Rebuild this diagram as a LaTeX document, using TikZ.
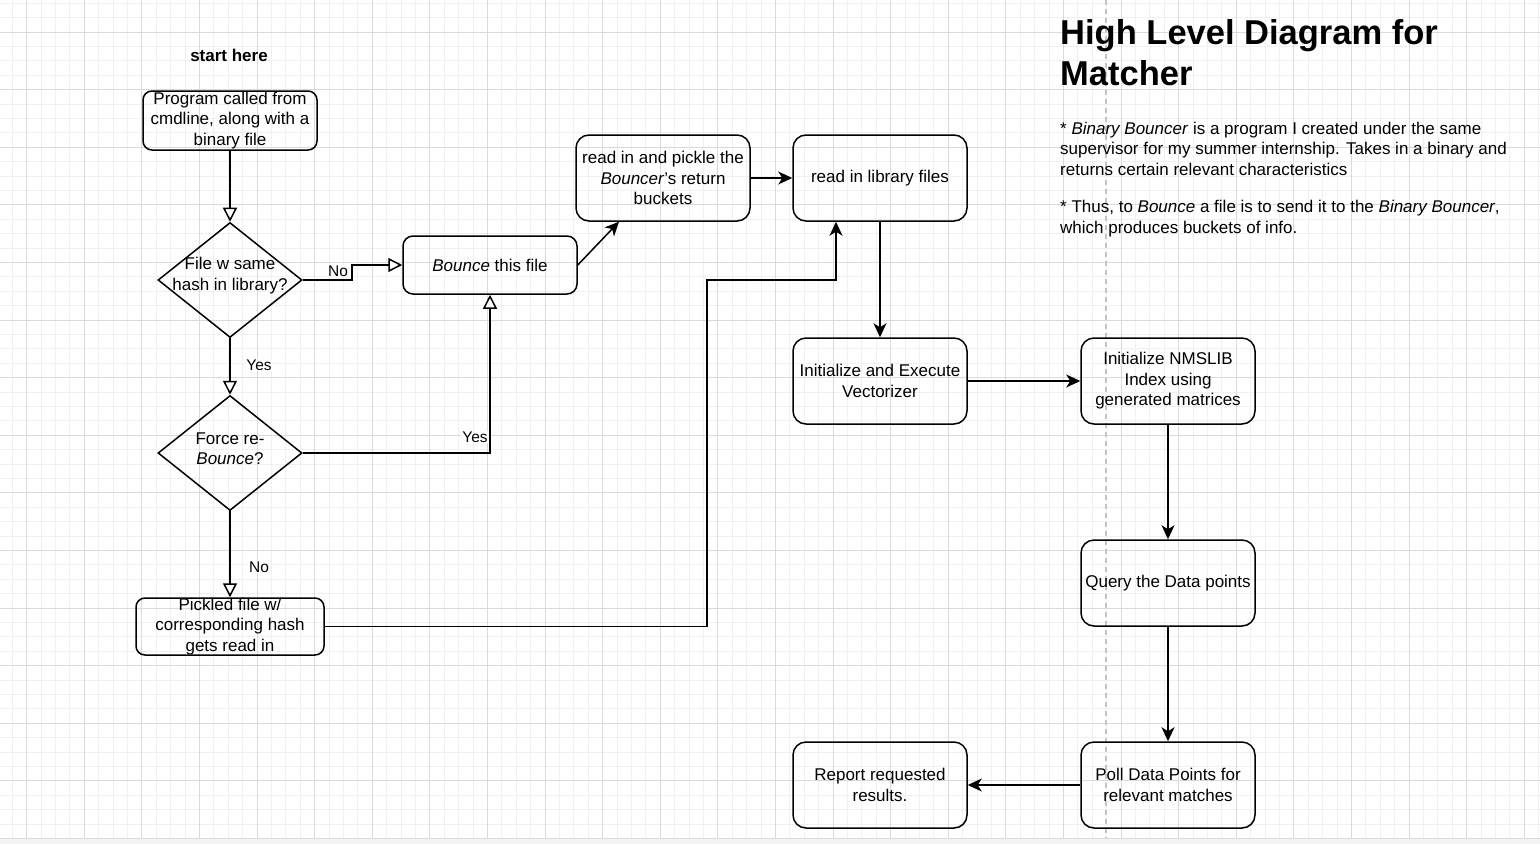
\documentclass[tikz,border=0pt]{standalone}
\usepackage{fontspec}
\setmainfont{Liberation Sans}
\usetikzlibrary{arrows.meta,shapes.geometric}
\definecolor{gridminor}{HTML}{F0F0F0}
\definecolor{gridmajor}{HTML}{DADADA}
\definecolor{pageline}{HTML}{C4C4C4}
\definecolor{pagebottom}{HTML}{F4F4F4}
\newcommand{\boxfont}{\fontsize{17}{20.5}\selectfont}
\newcommand{\labelfont}{\fontsize{15.5}{18}\selectfont}
\newcommand{\titlefont}{\fontsize{34.5}{41}\selectfont\bfseries}
\tikzset{
	box/.style={draw, line width=1.5pt, rounded corners=13pt, align=center, inner sep=0pt, font=\boxfont, minimum width=174pt, minimum height=86pt},
	decision/.style={draw, diamond, line width=1.5pt, inner sep=0pt, minimum width=144pt, minimum height=115pt},
	flow/.style={line width=1.5pt, -{Stealth[length=14pt, width=13pt, inset=4pt]}},
	flowopen/.style={line width=1.5pt, -{Triangle[open, fill=white, length=14pt, width=14pt]}},
	elabel/.style={font=\labelfont, fill=white, inner sep=1pt},
}

\begin{document}
\begin{tikzpicture}[x=1pt, y=-1pt]
			%%%%% START %%%%%
			\useasboundingbox (0,0) rectangle (1540,844);
			
			% grid paper
			\foreach \i in {-1,...,105}
				\draw[gridminor, line width=0.7pt] ({26.6+14.4*\i},0) -- ++(0,838);
			\foreach \j in {-2,...,56}
				\draw[gridminor, line width=0.7pt] (0,{32+14.4*\j}) -- ++(1540,0);
			\foreach \i in {0,...,26}
				\draw[gridmajor, line width=0.8pt] ({26.6+57.6*\i},0) -- ++(0,838);
			\foreach \j in {0,...,14}
				\draw[gridmajor, line width=0.8pt] (0,{32+57.6*\j}) -- ++(1540,0);
			\fill[pagebottom] (0,838.5) rectangle (1540,844);
			\draw[pageline, line width=1.2pt, dash pattern=on 5pt off 4pt] (1106,0) -- (1106,838);
			
			% left column
			\node[font=\boxfont\bfseries] (start) at (229,55) {start here};
			\node[box, minimum height=59pt, rounded corners=9pt] (prog) at (230,120.5) {Program called from\\cmdline, along with a\\binary file};
			\node[decision, label={[align=center, font=\boxfont, yshift=4.5pt]center:File w same\\hash in library?}] (hashq) at (230,280) {};
			\node[decision, label={[align=center, font=\boxfont, yshift=4.5pt]center:Force re-\\\textit{Bounce}?}] (forceq) at (230,453) {};
			\node[box, minimum width=188pt, minimum height=57pt, rounded corners=9pt] (pickled) at (230,626.5) {Pickled file w/\\corresponding hash\\gets read in};
			
			% bouncing
			\node[box, minimum height=58pt, rounded corners=10pt] (bounce) at (490,265) {\textit{Bounce} this file};
			\node[box] (pickle) at (663,178) {read in and pickle the\\\textit{Bouncer}'s return\\buckets};
			\node[box] (lib) at (880,178) {read in library files};
			
			% matching
			\node[box] (vec) at (880,381) {Initialize and Execute\\Vectorizer};
			\node[box] (nms) at (1168,381) {Initialize NMSLIB\\Index using\\generated matrices};
			\node[box] (query) at (1168,583) {Query the Data points};
			\node[box] (poll) at (1168,785) {Poll Data Points for\\relevant matches};
			\node[box] (report) at (880,785) {Report requested\\results.};
			
			% notes
			\node[anchor=north west, inner sep=0pt, align=left, font=\titlefont] (title) at (1060,18.8) {High Level Diagram for\\Matcher};
			\node[anchor=north west, inner sep=0pt, align=left, font=\boxfont] (notes) at (1060,121.5) {* \textit{Binary Bouncer} is a program I created under the same\\supervisor for my summer internship. Takes in a binary and\\returns certain relevant characteristics\\[17pt]* Thus, to \textit{Bounce} a file is to send it to the \textit{Binary Bouncer},\\which produces buckets of info.};
			
			% connectors
			\draw[flowopen] (prog) -- (hashq);
			\draw[flowopen] (hashq.east) -- (352,280) |- (bounce.west);
			\node[elabel] (lno1) at (338,271) {No};
			\draw[flowopen] (hashq) -- (forceq);
			\node[elabel] (lyes1) at (259,365) {Yes};
			\draw[flowopen] (forceq.east) -| (bounce.south);
			\node[elabel] (lyes2) at (475,437) {Yes};
			\draw[flowopen] (forceq) -- (pickled);
			\node[elabel] (lno2) at (259,567) {No};
			
			\draw[flow] (bounce.east) -- ([xshift=-44pt]pickle.south);
			\draw[flow] (pickle) -- (lib);
			\draw[flow] (pickled.east) -| (707,280) -| ([xshift=-44pt]lib.south);
			\draw[flow] (lib) -- (vec);
			\draw[flow] (vec) -- (nms);
			\draw[flow] (nms) -- (query);
			\draw[flow] (query) -- (poll);
			\draw[flow] (poll) -- (report);
			%%%%% END %%%%%
\end{tikzpicture}
\end{document}
